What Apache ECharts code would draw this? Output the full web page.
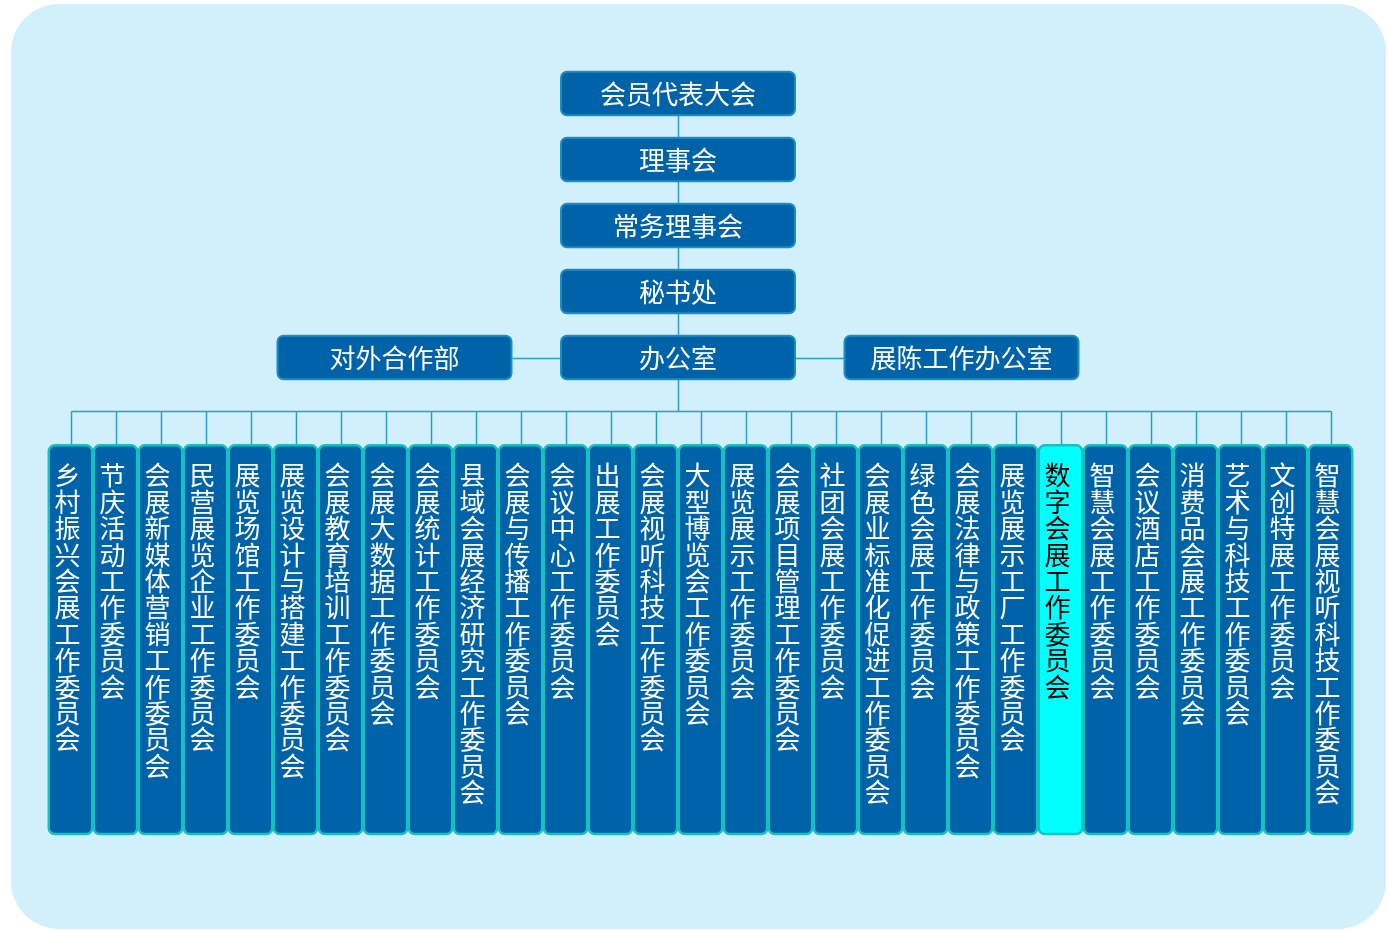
<!DOCTYPE html>
<html>
<head>
<meta charset="utf-8">
<script src="https://cdn.jsdelivr.net/npm/echarts@6/dist/echarts.min.js"></script>
<style>
  html, body { margin: 0; padding: 0; background: #fff; }
  #chart { width: 1388px; height: 930px; }
</style>
</head>
<body>
<div id="chart"></div>
<script>
  // 组织架构
  const chainNames = ['会员代表大会', '理事会', '常务理事会', '秘书处', '办公室'];
  const sideNames = ['对外合作部', '展陈工作办公室'];
  const committees = [
    '乡村振兴会展工作委员会', '节庆活动工作委员会', '会展新媒体营销工作委员会', '民营展览企业工作委员会',
    '展览场馆工作委员会', '展览设计与搭建工作委员会', '会展教育培训工作委员会', '会展大数据工作委员会',
    '会展统计工作委员会', '县域会展经济研究工作委员会', '会展与传播工作委员会', '会议中心工作委员会',
    '出展工作委员会', '会展视听科技工作委员会', '大型博览会工作委员会', '展览展示工作委员会',
    '会展项目管理工作委员会', '社团会展工作委员会', '会展业标准化促进工作委员会', '绿色会展工作委员会',
    '会展法律与政策工作委员会', '展览展示工厂工作委员会', '数字会展工作委员会', '智慧会展工作委员会',
    '会议酒店工作委员会', '消费品会展工作委员会', '艺术与科技工作委员会', '文创特展工作委员会',
    '智慧会展视听科技工作委员会'
  ];
  const highlighted = ['数字会展工作委员会'];

  // layout in axis units (x: committee index, y: level)
  const n = committees.length;
  const CX = (n - 2) / 2;
  const SIDE = 6.3;
  const BOX_W = 5.2, BOX_H = 0.66;
  const OFFICE = chainNames.length - 1;
  const BUS_Y = 4.81;
  const COM_TOP = 5.33, COM_BOT = 11.22, COM_W = 0.965;

  const boxes = [];
  chainNames.forEach((name, i) => boxes.push({ value: [CX, i, BOX_W, BOX_H], name: name, kind: 'top' }));
  boxes.push({ value: [CX - SIDE, OFFICE, BOX_W, BOX_H], name: sideNames[0], kind: 'top' });
  boxes.push({ value: [CX + SIDE, OFFICE, BOX_W, BOX_H], name: sideNames[1], kind: 'top' });
  committees.forEach((name, i) => boxes.push({
    value: [i, (COM_TOP + COM_BOT) / 2, COM_W, COM_BOT - COM_TOP], name: name,
    kind: highlighted.indexOf(name) >= 0 ? 'hot' : 'com'
  }));

  const links = [];
  for (let i = 0; i < OFFICE; i++) {
    links.push([CX, i + BOX_H / 2, CX, i + 1 - BOX_H / 2]);
  }
  links.push([CX - SIDE + BOX_W / 2, OFFICE, CX - BOX_W / 2, OFFICE]);
  links.push([CX + BOX_W / 2, OFFICE, CX + SIDE - BOX_W / 2, OFFICE]);
  links.push([CX, OFFICE + BOX_H / 2, CX, BUS_Y]);
  links.push([0, BUS_Y, n - 1, BUS_Y]);
  committees.forEach((c, i) => links.push([i, BUS_Y, i, COM_TOP]));

  const chart = echarts.init(document.getElementById('chart'));

  chart.setOption({
    animation: false,
    graphic: [{
      type: 'rect',
      z: -10,
      shape: { x: 11, y: 4, width: 1375, height: 925, r: 48 },
      style: { fill: '#d1f0fb' }
    }],
    grid: { left: 48, right: 35, top: 27.5, bottom: 44.5 },
    xAxis: { type: 'value', min: -0.5, max: n - 0.5, show: false },
    yAxis: { type: 'value', min: -1, max: 12, inverse: true, show: false },
    series: [{
      type: 'custom',
      name: 'links',
      z: 1,
      silent: true,
      data: links,
      renderItem: function (params, api) {
        const a = api.coord([api.value(0), api.value(1)]);
        const b = api.coord([api.value(2), api.value(3)]);
        return {
          type: 'line',
          shape: { x1: Math.round(a[0]) + 0.5, y1: Math.round(a[1]) + 0.5, x2: Math.round(b[0]) + 0.5, y2: Math.round(b[1]) + 0.5 },
          style: { stroke: '#2a9ccb', lineWidth: 1.5 }
        };
      }
    }, {
      type: 'custom',
      name: 'boxes',
      z: 2,
      data: boxes,
      renderItem: function (params, api) {
        const item = boxes[params.dataIndex];
        const c = api.coord([api.value(0), api.value(1)]);
        const s = api.size([api.value(2), api.value(3)]);
        const x = c[0] - s[0] / 2, y = c[1] - s[1] / 2;
        const isTop = item.kind === 'top';
        const rect = {
          type: 'rect',
          shape: { x: x, y: y, width: s[0], height: s[1], r: 6 },
          style: {
            fill: item.kind === 'hot' ? '#00ffff' : '#0062a8',
            stroke: isTop ? '#1a8fc2' : '#16bfc0',
            lineWidth: isTop ? 2 : 2.5
          }
        };
        const text = isTop ? {
          type: 'text',
          style: {
            text: item.name, x: c[0], y: c[1] + 1,
            fill: '#fff', fontSize: 26, fontFamily: 'Noto Sans CJK SC',
            align: 'center', verticalAlign: 'middle'
          }
        } : {
          type: 'text',
          style: {
            text: item.name.split('').join('\n'), x: c[0] - 3, y: y + 17,
            fill: item.kind === 'hot' ? '#000' : '#fff', fontSize: 26, lineHeight: 26.4,
            fontFamily: 'Noto Sans CJK SC', align: 'center', verticalAlign: 'top'
          }
        };
        return { type: 'group', children: [rect, text] };
      }
    }]
  });
</script>
</body>
</html>
